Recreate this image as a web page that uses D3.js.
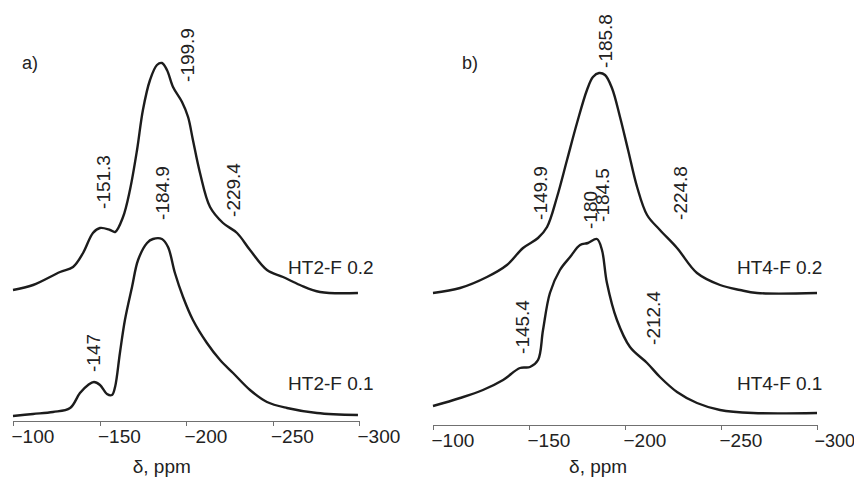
<!DOCTYPE html>
<html>
<head>
<meta charset="utf-8">
<script src="https://cdn.jsdelivr.net/npm/d3@7"></script>
<style>
  body { margin: 0; background: #fff; }
  svg { display: block; font-family: 'Liberation Sans', Arial, sans-serif; }
  .axis path, .axis line { stroke: #707070; stroke-width: 1; shape-rendering: crispEdges; }
  .axis text { font-size: 19px; fill: #222; }
  .spec { fill: none; stroke: #1c1c1c; stroke-width: 2.4; stroke-linejoin: round; }
  .note { font-size: 19px; fill: #222; }
</style>
</head>
<body>
<main></main>
<script>
// chemical shift ticks (ppm)
const ticks = [-100, -150, -200, -250, -300];

// spectra: [ppm, intensity above own baseline]
const ht2_02 = [[-100,3],[-111.6,8],[-127.2,21],[-134.7,26],[-140.5,40],[-146.2,60],[-150.3,65],[-156.1,63],[-159.0,61],[-163.6,76],[-167.6,103],[-171.7,143],[-175.1,183],[-179.2,213],[-183.2,228],[-186.1,230],[-189.0,223],[-192.5,206],[-197.7,191],[-201.2,176],[-204.0,153],[-208.1,120],[-213.9,86],[-221.4,70],[-229.5,60],[-237.0,43],[-246.8,23],[-256.1,16],[-265.9,8],[-277.5,1],[-299.4,0]];
const ht2_01 = [[-100,0],[-111.6,2],[-123.1,4],[-133.0,8],[-138.7,23],[-143.4,31],[-146.8,34],[-150.3,31],[-154.3,22],[-157.2,21],[-159.0,29],[-161.8,63],[-164.7,96],[-168.8,129],[-172.3,156],[-177.5,173],[-180.9,177],[-186.1,177],[-189.6,169],[-193.6,143],[-198.3,119],[-204.0,96],[-212.1,73],[-219.7,56],[-227.2,43],[-237.0,26],[-246.8,14],[-258.4,8],[-275.7,3],[-299.4,1]];
const ht4_02 = [[-100,0],[-114.1,5],[-128.1,16],[-138.5,28],[-146.9,45],[-154.7,55],[-159.4,66],[-164.6,96],[-169.8,133],[-175.0,170],[-180.2,203],[-183.3,216],[-186.5,220],[-189.6,218],[-193.2,205],[-197.4,176],[-201.6,143],[-206.3,106],[-211.5,78],[-218.2,63],[-227.1,45],[-237.5,20],[-249.5,8],[-259.9,3],[-268.8,0],[-300,0]];
const ht4_01 = [[-100,7],[-114.1,15],[-126.0,23],[-136.5,33],[-145.3,45],[-150.5,46],[-154.7,53],[-157.3,83],[-160.9,120],[-166.1,143],[-171.4,156],[-176.6,168],[-180.7,170],[-185.4,174],[-188.0,163],[-190.6,130],[-195.8,93],[-202.6,66],[-211.5,50],[-218.2,36],[-227.1,21],[-237.5,10],[-249.5,3],[-266.7,0],[-300,0]];

// baseline offsets of stacked spectra
const offsetsA = [128, 5];
const offsetsB = [132, 12];

// rotated peak labels: [text, ppm, intensity]
const peaksA = [['-199.9', -200.6, 366], ['-151.3', -152.0, 239], ['-184.9', -186.1, 228], ['-229.4', -227.2, 231], ['-147', -146.2, 68]];
const peaksB = [['-185.8', -189.6, 384], ['-149.9', -155.7, 232], ['-180', -181.8, 215], ['-184.5', -188.0, 230], ['-224.8', -228.6, 232], ['-145.4', -146.4, 98], ['-212.4', -214.6, 107]];

// sample names: [text, ppm, intensity]
const namesA = [['HT2-F 0.2', -259.0, 154], ['HT2-F 0.1', -259.0, 38]];
const namesB = [['HT4-F 0.2', -258.3, 158], ['HT4-F 0.1', -258.3, 42]];

const W = 854;
const H = 479;

const $svg = d3.select('main').append('svg').attr('width', W).attr('height', H);

function drawPanel(cfg) {
  const x = d3.scaleLinear().domain([-100, -300]).range([cfg.left, cfg.right]);
  const y = d3.scaleLinear().domain([0, 400]).range([cfg.base, cfg.base - 400]);

  const $g = $svg.append('g');

  const axis = d3.axisBottom(x).tickValues(ticks).tickSize(5).tickSizeOuter(0).tickFormat(d3.format('d'));
  const $axis = $g.append('g').attr('class', 'axis').attr('transform', `translate(0, ${cfg.base})`).call(axis);
  $axis.selectAll('text').attr('text-anchor', 'start').attr('dx', '-2').attr('y', 9).attr('dy', '0.71em');
  // last label sits right at the page edge, squeeze it a little
  if (cfg.squeezeLast) {
    $axis.selectAll('text').filter(d => d === -300).style('font-size', '18px').attr('dx', '-3');
  }

  $g.append('text')
    .attr('class', 'axis-title')
    .attr('x', x(-186))
    .attr('y', 473)
    .attr('text-anchor', 'middle')
    .style('font-size', '19px')
    .attr('fill', '#222')
    .text('δ, ppm');

  const line = d3.line()
    .x(d => x(d[0]))
    .y(d => y(d[1]))
    .curve(d3.curveCatmullRom.alpha(0.5));

  cfg.spectra.forEach((s, i) => {
    $g.append('path')
      .attr('class', 'spec')
      .datum(s.map(d => [d[0], d[1] + cfg.offsets[i]]))
      .attr('d', line);
  });

  $g.selectAll('.peak')
    .data(cfg.peaks)
    .enter()
    .append('text')
    .attr('class', 'note peak')
    .attr('transform', d => `translate(${x(d[1])}, ${y(d[2])}) rotate(-90)`)
    .attr('text-anchor', 'middle')
    .attr('dy', '0.35em')
    .text(d => d[0]);

  $g.selectAll('.name')
    .data(cfg.names)
    .enter()
    .append('text')
    .attr('class', 'note name')
    .attr('x', d => x(d[1]))
    .attr('y', d => y(d[2]))
    .attr('dy', '0.35em')
    .text(d => d[0]);

  $g.append('text')
    .attr('class', 'note')
    .attr('x', x(cfg.tag[1]))
    .attr('y', y(cfg.tag[2]))
    .attr('dy', '0.35em')
    .style('font-size', '18px')
    .text(cfg.tag[0]);
}

drawPanel({
  left: 13, right: 359, base: 421,
  spectra: [ht2_02, ht2_01], offsets: offsetsA,
  peaks: peaksA, names: namesA, tag: ['a)', -105.2, 358]
});

drawPanel({
  left: 433, right: 817, base: 425, squeezeLast: true,
  spectra: [ht4_02, ht4_01], offsets: offsetsB,
  peaks: peaksB, names: namesB, tag: ['b)', -115.1, 362]
});
</script>
</body>
</html>
